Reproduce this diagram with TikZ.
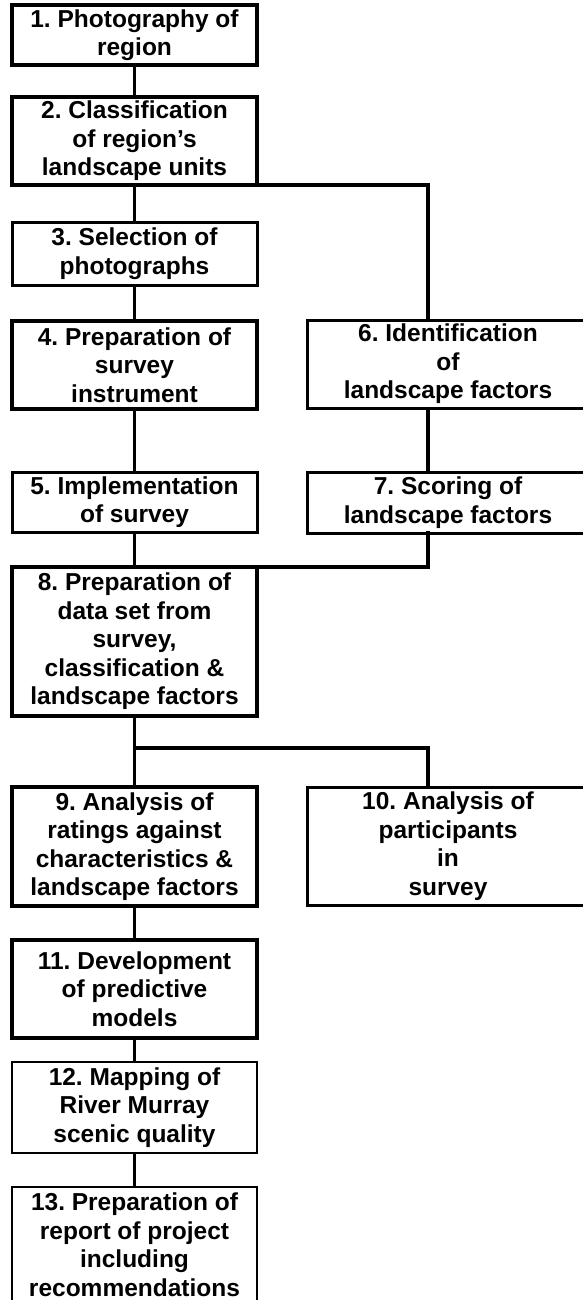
\documentclass[tikz,border=0pt]{standalone}
\usepackage{fontspec}
\setmainfont{Liberation Sans}
\frenchspacing
\begin{document}
\begin{tikzpicture}[x=1pt,y=-1pt,
  box/.style={draw=black,line width=3.4pt,fill=white,inner sep=0pt,outer sep=0pt,align=center,
    font=\fontsize{24.5}{28.5}\selectfont\bfseries},
  lbox/.style={box,minimum width=245pt},
  rbox/.style={box,minimum width=282pt},
  midbox/.style={line width=3pt},
  thinbox/.style={line width=1.8pt},
  link/.style={draw=black,line width=3.4pt}]
\path[use as bounding box,fill=white] (0,0) rectangle (582,1300);
% nodes
\node[lbox,minimum height=60pt] (b1) at (134.5,35) {1. Photography of\\region};
\node[lbox,minimum height=88pt] (b2) at (134.5,141) {2. Classification\\of region’s\\landscape units};
\node[lbox,midbox,minimum height=63pt] (b3) at (134.5,253.5) {3. Selection of\\photographs};
\node[lbox,minimum height=88pt] (b4) at (134.5,365) {4. Preparation of\\survey\\instrument};
\node[lbox,midbox,minimum height=60pt] (b5) at (134.5,502) {5. Implementation\\of survey};
\node[rbox,midbox,minimum height=88pt] (b6) at (448,364) {6. Identification\\of\\landscape factors};
\node[rbox,midbox,minimum height=61pt] (b7) at (448,502.5) {7. Scoring of\\landscape factors};
\node[lbox,minimum height=149pt] (b8) at (134.5,641.5) {8. Preparation of\\data set from\\survey,\\classification \&\\landscape factors};
\node[lbox,minimum height=119pt] (b9) at (134.5,846.5) {9. Analysis of\\ratings against\\characteristics \&\\landscape factors};
\node[rbox,midbox,minimum height=118pt] (b10) at (448,846) {10. Analysis of\\participants\\in\\survey};
\node[lbox,minimum height=98pt] (b11) at (134.5,989) {11. Development\\of predictive\\models};
\node[lbox,thinbox,minimum height=91pt] (b12) at (134.5,1107.5) {12. Mapping of\\River Murray\\scenic quality};
\node[lbox,thinbox,minimum height=115pt] (b13) at (134.5,1244.5) {13. Preparation of\\report of project\\including\\recommendations};
% junction coordinates
\coordinate (r1) at (428,185);
\coordinate (r2) at (428,748);
\coordinate (j8) at (134.5,748);
% connectors
\draw[link] (b1.south) -- (b2.north);
\draw[link] (b2.south) -- (b3.north);
\draw[link] (b3.south) -- (b4.north);
\draw[link] (b4.south) -- (b5.north);
\draw[link] (b5.south) -- (b8.north);
\draw[link] (b8.south) -- (b9.north);
\draw[link] (b9.south) -- (b11.north);
\draw[link] (b11.south) -- (b12.north);
\draw[link] (b12.south) -- (b13.north);
\draw[link,line cap=rect] (b2.south east) -- (r1) -- (r1 |- b6.north);
\draw[link] (r1 |- b6.south) -- (r1 |- b7.north);
\draw[link,line cap=rect] (r1 |- b7.south) |- (b8.north east);
\draw[link,line cap=rect] (j8) -- (r2) -- (r2 |- b10.north);
\end{tikzpicture}
\end{document}
